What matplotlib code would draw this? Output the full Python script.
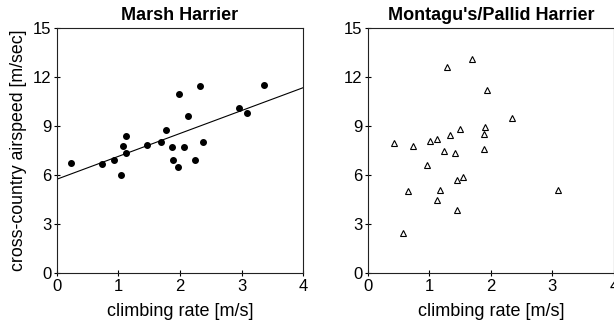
import numpy as np
import matplotlib
matplotlib.use('Agg')
import matplotlib.pyplot as plt

plt.rcParams['font.family'] = ['Liberation Sans', 'DejaVu Sans']

# Marsh Harrier data
marsh_x = [0.22, 0.73, 0.93, 1.04, 1.08, 1.12, 1.13, 1.46, 1.69, 1.78, 1.875,
           1.89, 1.97, 1.99, 2.06, 2.13, 2.25, 2.33, 2.38, 2.96, 3.09, 3.37]
marsh_y = [6.76, 6.67, 6.90, 6.02, 7.80, 8.39, 7.35, 7.84, 8.00, 8.78, 7.72,
           6.94, 6.49, 10.94, 7.74, 9.63, 6.90, 11.45, 8.02, 10.12, 9.78, 11.53]
# regression line
fit_intercept = 5.75
fit_slope = 1.40
fit_x = [0, 4]

# Montagu's/Pallid Harrier data
mont_x = [0.43, 0.58, 0.66, 0.73, 0.96, 1.01, 1.12, 1.12, 1.17, 1.24, 1.29, 1.34,
          1.41, 1.45, 1.45, 1.50, 1.55, 1.70, 1.89, 1.89, 1.91, 1.94, 2.35, 3.10]
mont_y = [7.98, 2.44, 5.01, 7.81, 6.59, 8.08, 4.50, 8.22, 5.11, 7.50, 12.62, 8.45,
          7.38, 3.89, 5.67, 8.82, 5.87, 13.13, 8.51, 7.57, 8.92, 11.23, 9.49, 5.09]

x_ticks = [0, 1, 2, 3, 4]
y_ticks = [0, 3, 6, 9, 12, 15]

fig = plt.figure(figsize=(6.14, 3.31), dpi=100)
ax1 = fig.add_axes([0.0928, 0.175, 0.4007, 0.740])
ax2 = fig.add_axes([0.599, 0.175, 0.4007, 0.740])


def style_axis(ax, title):
    ax.set_xlim(0, 4)
    ax.set_ylim(0, 15)
    ax.set_xticks(x_ticks)
    ax.set_yticks(y_ticks)
    ax.tick_params(direction='inout', length=5, width=0.8, labelsize=12, pad=1.5)
    for sp in ax.spines.values():
        sp.set_linewidth(0.8)
        sp.set_color('#222222')
    ax.set_title(title, fontsize=13, fontweight='bold', pad=6)
    ax.set_xlabel('climbing rate [m/s]', fontsize=13, labelpad=7)


# 左图：实心点 + 回归线
ax1.plot(marsh_x, marsh_y, 'o', color='black', markersize=4, linestyle='none')
fit_y = [fit_intercept + fit_slope * v for v in fit_x]
ax1.plot(fit_x, fit_y, '-', color='black', linewidth=0.8)
style_axis(ax1, 'Marsh Harrier')
ax1.set_ylabel('cross-country airspeed [m/sec]', fontsize=12.8, labelpad=4)

# 右图：空心三角
ax2.plot(mont_x, mont_y, '^', markerfacecolor='white', markeredgecolor='black',
         markersize=5, markeredgewidth=0.8, linestyle='none')
style_axis(ax2, "Montagu's/Pallid Harrier")

fig.savefig('out.png', dpi=100)
